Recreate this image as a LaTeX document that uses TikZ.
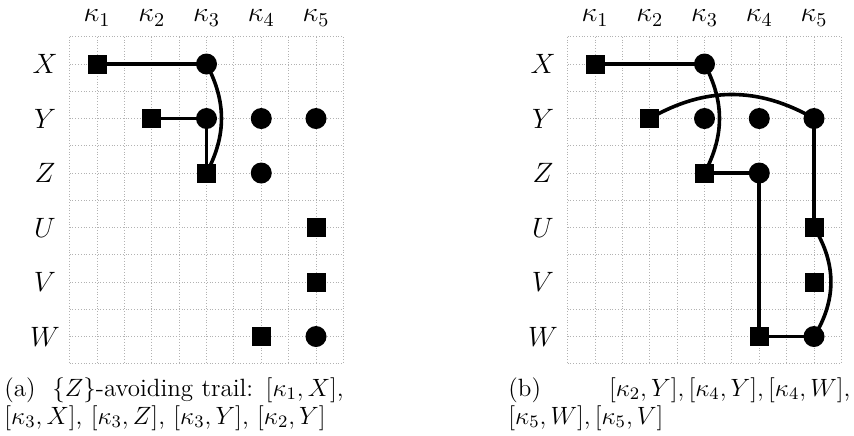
\RequirePackage{fix-cm}
\documentclass[tikz,border=0pt]{standalone}
\usetikzlibrary{backgrounds}
\begin{document}
\begin{tikzpicture}[x=0.5pt,y=-0.5pt,
  gridline/.style={gray!60,densely dotted,line width=0.4pt},
  sq/.style={fill=black,inner sep=0pt,minimum size=9.5pt,draw=none},
  ci/.style={circle,fill=black,inner sep=0pt,minimum size=10.5pt,draw=none},
  trail/.style={line width=1.8pt,black},
  lab/.style={font=\fontsize{14}{16}\selectfont},
  captext/.style={font=\fontsize{12.5}{14}\selectfont,text width=175pt,align=left,inner sep=0pt,anchor=north west}]
\useasboundingbox (0,0) rectangle (854,435);
\foreach \p/\ox in {a/0,b/498}{
  \begin{scope}[shift={(\ox,0)}]
    % column headers
    \foreach \i in {1,...,5}{
      \node[lab] (\p k\i) at ({97+54.75*(\i-1)},18) {$\kappa_{\i}$};
    }
    \foreach \r/\j in {X/1,Y/2,Z/3,U/4,V/5,W/6}{
      \node[lab] (\p r\j) at (45,{64+54.5*(\j-1)}) {$\r$};
    }
    % squares
    \foreach \i/\j in {1/1,2/2,3/3,5/4,5/5,4/6}{
      \node[sq] (\p\i\j) at ({97+54.75*(\i-1)},{64+54.5*(\j-1)}) {};
    }
    % circles
    \foreach \i/\j in {3/1,3/2,4/2,5/2,4/3,5/6}{
      \node[ci] (\p\i\j) at ({97+54.75*(\i-1)},{64+54.5*(\j-1)}) {};
    }
  \end{scope}
}
\begin{scope}[on background layer]
  \foreach \ox in {0,498}{
    \foreach \k in {0,...,10}{
      \draw[gridline] ({\ox+69.625+27.375*\k},36.75) -- ({\ox+69.625+27.375*\k},363.75);
    }
    \foreach \k in {0,...,12}{
      \draw[gridline] ({\ox+69.625},{36.75+27.25*\k}) -- ({\ox+343.375},{36.75+27.25*\k});
    }
  }
  % panel a trails
  \draw[trail] (a11.center) -- (a31.center);
  \draw[trail] (a31.center) to[bend left=28] (a33.center);
  \draw[trail] (a22.center) -- (a32.center);
  \draw[trail] (a32.center) -- (a33.center);
  % panel b trails
  \draw[trail] (b11.center) -- (b31.center);
  \draw[trail] (b31.center) to[bend left=28] (b33.center);
  \draw[trail] (b22.center) to[bend left=30] (b52.center);
  \draw[trail] (b33.center) -- (b43.center);
  \draw[trail] (b43.center) -- (b46.center);
  \draw[trail] (b46.center) -- (b56.center);
  \draw[trail] (b56.center) to[bend right=32] (b54.center);
  \draw[trail] (b54.center) -- (b52.center);
\end{scope}
\node[captext] (capa) at (4,377) {(a)\ \ $\{Z\}$-avoiding trail: $[\kappa_1,X]$,\\ $[\kappa_3,X]$, $[\kappa_3,Z]$, $[\kappa_3,Y]$, $[\kappa_2,Y]$};
\node[captext,text width=171pt] (capb) at (508,377) {(b)\hfill $[\kappa_2,Y],[\kappa_4,Y],[\kappa_4,W]$,\\ $[\kappa_5,W],[\kappa_5,V]$};
\end{tikzpicture}
\end{document}
